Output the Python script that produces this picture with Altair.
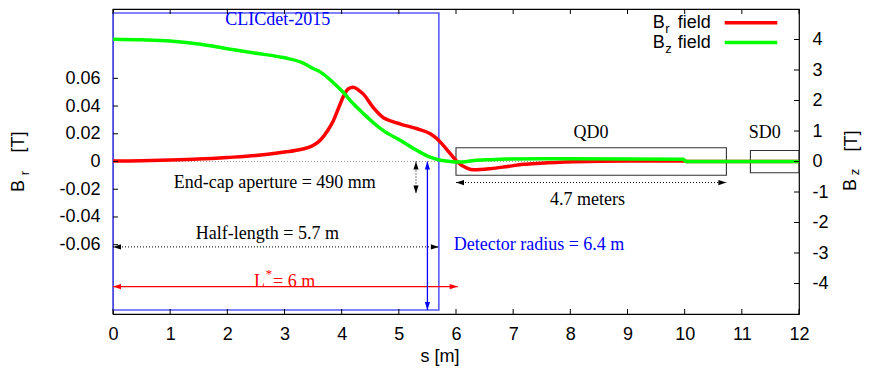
import altair as alt
import pandas as pd

# ---------------- data ----------------
# B_r (left axis, Tesla) along s [m]
br_s = [0, 0.5, 1.0, 1.5, 2.0, 2.5, 3.0, 3.3, 3.5, 3.63, 3.75, 3.85, 3.95, 4.03, 4.12, 4.20,
        4.28, 4.38, 4.55, 4.73, 4.88, 5.03, 5.32, 5.55, 5.65, 5.73, 5.90, 6.03, 6.2, 6.31,
        6.6, 6.9, 7.18, 7.48, 8.06, 9.0, 9.98, 10.05, 12.0]
br_v = [0.0003, 0.0006, 0.0011, 0.0018, 0.0029, 0.0043, 0.0068, 0.0088, 0.0115, 0.0155,
        0.022, 0.029, 0.039, 0.047, 0.0525, 0.0536, 0.052, 0.0486, 0.039, 0.0316,
        0.029, 0.027, 0.0236, 0.020, 0.017, 0.0138, 0.0057, -0.0005, -0.005, -0.006,
        -0.0052, -0.0036, -0.002, -0.0012, -0.0002, 0.0004, 0.0003, 0.0, 0.0]

# B_z (right axis, Tesla) along s [m]
bz_s = [0, 0.5, 1.0, 1.5, 2.0, 2.5, 3.0, 3.3, 3.5, 3.63, 3.85, 4.03, 4.20, 4.38, 4.55, 4.73,
        5.03, 5.32, 5.55, 5.73, 5.90, 6.03, 6.2, 6.31, 6.6, 6.9, 7.5, 8.06, 9.0, 9.98, 10.02, 12.0]
bz_v = [4.01, 3.99, 3.95, 3.85, 3.70, 3.55, 3.40, 3.25, 3.05, 2.93, 2.59, 2.26, 1.90, 1.57,
        1.28, 1.01, 0.69, 0.36, 0.14, 0.04, 0.0, -0.02, 0.0, 0.03, 0.06, 0.08, 0.09, 0.09,
        0.08, 0.07, 0.0, 0.0]

x_ticks = list(range(0, 13))
br_ticks = [-0.06, -0.04, -0.02, 0.0, 0.02, 0.04, 0.06]
bz_ticks = [-4, -3, -2, -1, 0, 1, 2, 3, 4]

# boxes (in s and B_z-axis units)
box_s0 = [0.0, 6.0, 11.15]
box_s1 = [5.7, 10.73, 12.0]
box_v0 = [-4.87, -0.45, -0.37]
box_v1 = [4.87, 0.45, 0.36]
box_color = ["#5a5aff", "#333333", "#333333"]
box_width = [1.6, 1.1, 1.1]

# arrows (double headed)
arrow_s0 = [0.0, 5.3, 6.0, 0.0, 5.5]
arrow_v0 = [-2.8, 0.0, -0.69, -4.1, 0.0]
arrow_s1 = [5.7, 5.3, 10.73, 6.03, 5.5]
arrow_v1 = [-2.8, -1.05, -0.69, -4.1, -4.87]
arrow_color = ["black", "black", "black", "#ff0000", "#0000ff"]
arrow_dotted = [True, True, True, False, False]

# centred annotation labels
ann_text = ["CLICdet-2015", "End-cap aperture = 490 mm", "Half-length = 5.7 m", "QD0", "4.7 meters", "SD0"]
ann_s = [2.88, 2.83, 2.70, 8.36, 8.30, 11.40]
ann_v = [4.64, -0.72, -2.37, 0.95, -1.27, 0.95]
ann_color = ["#0000ff", "black", "black", "black", "black", "black"]

# left aligned labels
det_text = ["Detector radius = 6.4 m", "= 6 m"]
det_s = [5.96, 2.80]
det_v = [-2.75, -3.95]
det_color = ["#0000ff", "#ff0000"]

# legend
leg_B = ["B", "B"]
leg_sub = ["r", "z"]
leg_v = [4.55, 3.90]
leg_color = ["#ff0000", "#00ff00"]

# ---------------- scales / helpers ----------------
W, H = 686, 305
xscale = alt.Scale(domain=[0, 12], nice=False, zero=False)
br_scale = alt.Scale(domain=[-0.11, 0.11], nice=False, zero=False)
bz_scale = alt.Scale(domain=[-5, 5], nice=False, zero=False)

SANS = "Liberation Sans"
SERIF = "Liberation Serif"

x_axis = alt.Axis(values=x_ticks, ticks=False, domain=False, grid=False, title=None,
                  labelFont=SANS, labelFontSize=18, labelColor="black", labelPadding=11,
                  labelFlush=False, labelOverlap=False)
br_axis = alt.Axis(values=br_ticks, orient="left", ticks=False, domain=False, grid=False, title=None,
                   labelFont=SANS, labelFontSize=18, labelColor="black", labelPadding=13,
                   labelOverlap=False,
                   labelExpr="datum.value == 0 ? '0' : replace(format(datum.value, '.2f'), '\u2212', '-')")
bz_axis = alt.Axis(values=bz_ticks, orient="right", ticks=False, domain=False, grid=False, title=None,
                   labelFont=SANS, labelFontSize=18, labelColor="black", labelPadding=13,
                   labelOverlap=False,
                   labelExpr="replace(format(datum.value, 'd'), '\u2212', '-')")


def X(f="s"):
    return alt.X(f"{f}:Q", scale=xscale, axis=x_axis)


def YZ(f="v"):
    return alt.Y(f"{f}:Q", scale=bz_scale, axis=None)


layers = []

# boxes
box_df = pd.DataFrame({"s0": box_s0, "s1": box_s1, "v0": box_v0, "v1": box_v1,
                       "c": box_color, "w": box_width})
layers.append(alt.Chart(box_df).mark_rect(fillOpacity=0).encode(
    x=X("s0"), x2="s1:Q", y=YZ("v0"), y2="v1:Q",
    stroke=alt.Stroke("c:N", scale=None), strokeWidth=alt.StrokeWidth("w:Q", scale=None)))

# zero dotted line
zero_df = pd.DataFrame({"s0": [0.0], "s1": [12.0], "v": [0.0]})
layers.append(alt.Chart(zero_df).mark_rule(color="#9a9a9a", strokeDash=[1, 2], strokeWidth=1).encode(
    x=X("s0"), x2="s1:Q", y=YZ("v")))

# arrows
arr_df = pd.DataFrame({"s0": arrow_s0, "v0": arrow_v0, "s1": arrow_s1, "v1": arrow_v1,
                       "c": arrow_color, "dot": arrow_dotted})
layers.append(alt.Chart(arr_df[arr_df["dot"]]).mark_rule(strokeDash=[1, 2], strokeWidth=1).encode(
    x=X("s0"), x2="s1:Q", y=YZ("v0"), y2="v1:Q", color=alt.Color("c:N", scale=None)))
layers.append(alt.Chart(arr_df[~arr_df["dot"]]).mark_rule(strokeWidth=1.3).encode(
    x=X("s0"), x2="s1:Q", y=YZ("v0"), y2="v1:Q", color=alt.Color("c:N", scale=None)))

# arrowheads: tip at the end points, custom paths with tip at the origin
RIGHT = "M0,0L-2,-0.65L-2,0.65Z"
LEFT = "M0,0L2,-0.65L2,0.65Z"
UP = "M0,0L-0.65,2L0.65,2Z"
DOWN = "M0,0L-0.65,-2L0.65,-2Z"
heads = []
for a0, b0, a1, b1, c in zip(arrow_s0, arrow_v0, arrow_s1, arrow_v1, arrow_color):
    if b0 == b1:
        heads.append({"s": a0, "v": b0, "shape": LEFT, "c": c})
        heads.append({"s": a1, "v": b1, "shape": RIGHT, "c": c})
    else:
        heads.append({"s": a0, "v": b0, "shape": UP, "c": c})
        heads.append({"s": a1, "v": b1, "shape": DOWN, "c": c})
heads_df = pd.DataFrame(heads)
layers.append(alt.Chart(heads_df).mark_point(filled=True, size=64, opacity=1, strokeWidth=0).encode(
    x=X("s"), y=YZ("v"), shape=alt.Shape("shape:N", scale=None), color=alt.Color("c:N", scale=None)))

# annotation texts
ann_df = pd.DataFrame({"s": ann_s, "v": ann_v, "t": ann_text, "c": ann_color})
layers.append(alt.Chart(ann_df).mark_text(font=SERIF, fontSize=18, align="center", baseline="middle").encode(
    x=X("s"), y=YZ("v"), text="t:N", color=alt.Color("c:N", scale=None)))
det_df = pd.DataFrame({"s": det_s, "v": det_v, "t": det_text, "c": det_color})
layers.append(alt.Chart(det_df).mark_text(font=SERIF, fontSize=18, align="left", baseline="middle").encode(
    x=X("s"), y=YZ("v"), text="t:N", color=alt.Color("c:N", scale=None)))
# L* label pieces
lstar_df = pd.DataFrame({"s": [2.66], "v": [-3.95], "t": ["L"]})
layers.append(alt.Chart(lstar_df).mark_text(font=SERIF, fontSize=18, align="right", baseline="middle",
                                             color="#ff0000").encode(x=X("s"), y=YZ("v"), text="t:N"))
star_df = pd.DataFrame({"s": [2.67], "v": [-3.95], "t": ["*"]})
layers.append(alt.Chart(star_df).mark_text(font=SERIF, fontSize=13, align="left", baseline="middle",
                                            color="#ff0000", dy=-8).encode(x=X("s"), y=YZ("v"), text="t:N"))

# B_r curve (left axis)
br_df = pd.DataFrame({"s": br_s, "br": br_v})
layers.append(alt.Chart(br_df).mark_line(color="#ff0000", strokeWidth=3.5, interpolate="monotone").encode(
    x=X("s"), y=alt.Y("br:Q", scale=br_scale, axis=br_axis)))

# B_z curve (right axis)
bz_df = pd.DataFrame({"s": bz_s, "bz": bz_v})
layers.append(alt.Chart(bz_df).mark_line(color="#00ff00", strokeWidth=3.5, interpolate="monotone").encode(
    x=X("s"), y=alt.Y("bz:Q", scale=bz_scale, axis=bz_axis)))

# legend
leg_df = pd.DataFrame({"B": leg_B, "sub": leg_sub, "v": leg_v, "c": leg_color,
                       "sB": [9.65] * 2, "ssub": [9.66] * 2, "sf": [9.88] * 2,
                       "l0": [10.70] * 2, "l1": [11.62] * 2, "f": ["field"] * 2})
layers.append(alt.Chart(leg_df).mark_text(font=SANS, fontSize=18, align="right", baseline="middle",
                                          color="black").encode(x=X("sB"), y=YZ("v"), text="B:N"))
layers.append(alt.Chart(leg_df).mark_text(font=SANS, fontSize=13, align="left", baseline="middle",
                                          color="black", dy=6).encode(x=X("ssub"), y=YZ("v"), text="sub:N"))
layers.append(alt.Chart(leg_df).mark_text(font=SANS, fontSize=18, align="left", baseline="middle",
                                          color="black").encode(x=X("sf"), y=YZ("v"), text="f:N"))
layers.append(alt.Chart(leg_df).mark_rule(strokeWidth=3.5).encode(
    x=X("l0"), x2="l1:Q", y=YZ("v"), color=alt.Color("c:N", scale=None)))

# inward ticks (gnuplot style)
xt_df = pd.DataFrame({"t": x_ticks})
layers.append(alt.Chart(xt_df).mark_rule(color="black", strokeWidth=1).encode(
    x=X("t"), y=alt.value(H), y2=alt.value(H - 5)))
layers.append(alt.Chart(xt_df).mark_rule(color="black", strokeWidth=1).encode(
    x=X("t"), y=alt.value(0), y2=alt.value(5)))
brt_df = pd.DataFrame({"t": br_ticks})
layers.append(alt.Chart(brt_df).mark_rule(color="black", strokeWidth=1).encode(
    y=alt.Y("t:Q", scale=br_scale, axis=None), x=alt.value(0), x2=alt.value(5)))
bzt_df = pd.DataFrame({"t": bz_ticks})
layers.append(alt.Chart(bzt_df).mark_rule(color="black", strokeWidth=1).encode(
    y=alt.Y("t:Q", scale=bz_scale, axis=None), x=alt.value(W), x2=alt.value(W - 5)))

# axis titles with sub-scripts
one = pd.DataFrame({"a": [0]})


def ptext(txt, px, py, size=18, angle=0, align="center"):
    return alt.Chart(one).mark_text(text=txt, font=SANS, fontSize=size, angle=angle, align=align,
                                    baseline="middle", color="black").encode(
        x=alt.value(px), y=alt.value(py))


layers += [
    ptext("B", -94, 177, angle=270), ptext("r", -88, 164, size=13, angle=270),
    ptext("[T]", -94, 133, angle=270),
    ptext("B", 738, 176, angle=270), ptext("z", 742, 163, size=13, angle=270),
    ptext("[T]", 739, 132, angle=270),
    ptext("s [m]", 327, 348),
]

chart = alt.layer(*layers).resolve_scale(y="independent").properties(
    width=W, height=H,
    autosize=alt.AutoSizeParams(type="none"),
    padding={"left": 105, "top": 1, "right": 63, "bottom": 52},
).configure_view(stroke="black", strokeWidth=1.2)

chart.save("out.html", embed_options={"renderer": "svg", "actions": False})
